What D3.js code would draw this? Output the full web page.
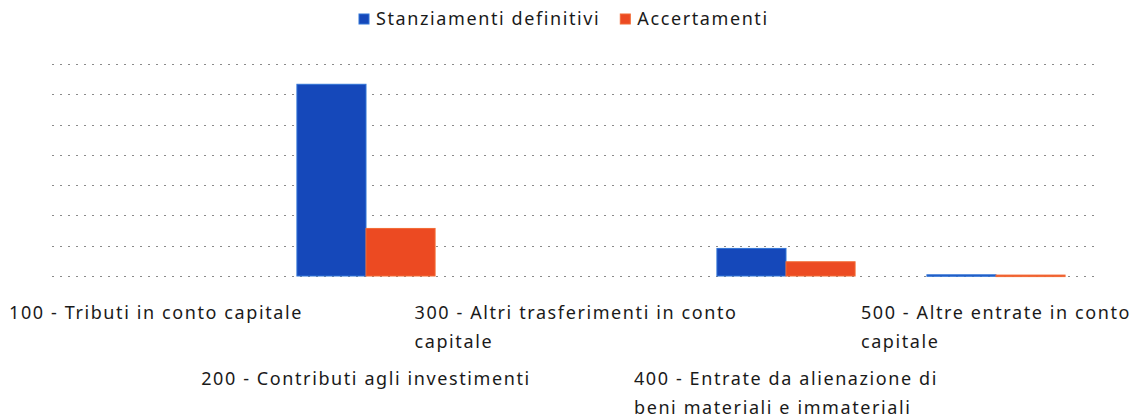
<!DOCTYPE html>
<html>
<head>
<meta charset="utf-8">
<script src="https://cdn.jsdelivr.net/npm/d3@7"></script>
<style>
  body { margin: 0; background: #fff; }
  text { font-family: "Noto Sans", sans-serif; fill: #1a1a1a; letter-spacing: 1.6px; }
</style>
</head>
<body>
<div id="bar-chart"></div>
<script>
const categories = ["100", "200", "300", "400", "500"];
const categoryLabels = [
  ["100 - Tributi in conto capitale"],
  ["200 - Contributi agli investimenti"],
  ["300 - Altri trasferimenti in conto", "capitale"],
  ["400 - Entrate da alienazione di", "beni materiali e immateriali"],
  ["500 - Altre entrate in conto", "capitale"],
];
const seriesNames = ["Stanziamenti definitivi", "Accertamenti"];
const stanziamenti = [0, 6330000, 0, 910000, 40000];
const accertamenti = [0, 1570000, 0, 470000, 30000];
const gridTicks = [0, 1000000, 2000000, 3000000, 4000000, 5000000, 6000000, 7000000];

const width = 1135;
const height = 419;
const margin = { top: 64, right: 34, bottom: 143, left: 51 };
const colors = ["#1548ba", "#ec4a22"];
const strokes = ["#3174d6", "#f26a34"];

const xScale = d3
  .scaleBand()
  .domain(categories)
  .range([margin.left, width - margin.right])
  .paddingInner(0)
  .paddingOuter(0);

const xSub = d3
  .scaleBand()
  .domain(seriesNames)
  .range([0, xScale.bandwidth()])
  .paddingInner(0)
  .paddingOuter(0.52);

const yScale = d3
  .scaleLinear()
  .domain([0, 7000000])
  .range([height - margin.bottom, margin.top]);

const svg = d3
  .select("#bar-chart")
  .append("svg")
  .attr("width", width)
  .attr("height", height);

// dotted gridlines
svg
  .append("g")
  .selectAll("line")
  .data(gridTicks)
  .join("line")
  .attr("x1", margin.left + 1)
  .attr("x2", width - margin.right - 3)
  .attr("y1", (d) => Math.round(yScale(d)) + 0.5)
  .attr("y2", (d) => Math.round(yScale(d)) + 0.5)
  .attr("stroke", "#8a8a8a")
  .attr("stroke-width", 1)
  .attr("stroke-dasharray", "2,6");

const rows = categories.map((c, i) => ({
  category: c,
  values: [stanziamenti[i], accertamenti[i]],
}));

const groups = svg
  .append("g")
  .selectAll("g")
  .data(rows)
  .join("g")
  .attr("transform", (d) => `translate(${xScale(d.category)}, 0)`);

groups
  .selectAll("rect")
  .data((d) => d.values.map((v, j) => ({ name: seriesNames[j], value: v, j })))
  .join("rect")
  .filter((d) => d.value > 0)
  .attr("x", (d) => xSub(d.name))
  .attr("y", (d) => yScale(d.value))
  .attr("width", xSub.bandwidth())
  .attr("height", (d) => Math.max(1.5, yScale(0) - yScale(d.value)))
  .attr("fill", (d) => colors[d.j])
  .attr("stroke", (d) => strokes[d.j])
  .attr("stroke-width", 1);

// staggered category labels, lines left-aligned inside a centred block
const labelGroups = svg
  .append("g")
  .selectAll("text")
  .data(categories)
  .join("text")
  .style("font-size", "18px")
  .attr("y", (d, i) => (i % 2 === 0 ? 319 : 385));

labelGroups
  .selectAll("tspan")
  .data((d, i) => categoryLabels[i])
  .join("tspan")
  .attr("dy", (d, k) => (k === 0 ? 0 : 29))
  .text((d) => d);

labelGroups.each(function (d) {
  const node = d3.select(this);
  const spans = node.selectAll("tspan").nodes();
  const blockWidth = d3.max(spans, (s) => s.getComputedTextLength());
  const left = xScale(d) + xScale.bandwidth() / 2 - blockWidth / 2;
  node.selectAll("tspan").attr("x", left);
});

// legend
const legend = svg.append("g").attr("transform", "translate(359, 13)");
let offset = 0;
seriesNames.forEach((name, i) => {
  const item = legend.append("g").attr("transform", `translate(${offset}, 0)`);
  item
    .append("rect")
    .attr("width", 10)
    .attr("height", 10)
    .attr("y", 1)
    .attr("fill", colors[i])
    .attr("stroke", strokes[i]);
  const label = item
    .append("text")
    .attr("x", 17)
    .attr("y", 12)
    .style("font-size", "18px")
    .text(name);
  offset += 17 + label.node().getComputedTextLength() + 20;
});
</script>
</body>
</html>
